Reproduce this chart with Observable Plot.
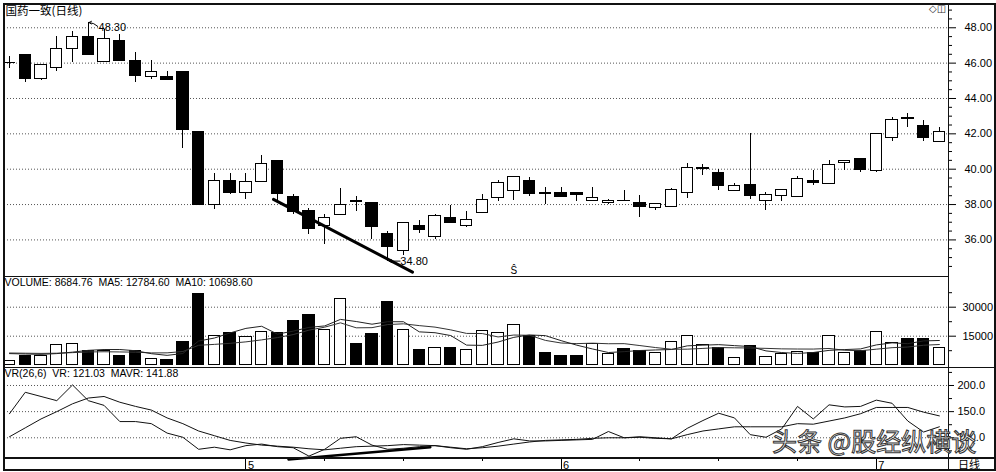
<!DOCTYPE html>
<html><head><meta charset="utf-8">
<script src="https://cdn.jsdelivr.net/npm/d3@7"></script>
<script src="https://cdn.jsdelivr.net/npm/@observablehq/plot@0.6"></script>
<style>
body{margin:0;background:#fff;}
#wrap{position:relative;width:996px;height:472px;overflow:hidden;background:#fff;font-family:"Liberation Sans",Arial,sans-serif;}
.panel{position:absolute;left:0;}
.panel svg{overflow:visible;background:transparent;display:block;}
.ln{position:absolute;background:#111;}
#border{position:absolute;left:3px;top:3px;width:993px;height:468px;border:2px solid #111;box-sizing:border-box;}
#wm{position:absolute;left:772px;top:428px;line-height:24px;font-family:"Noto Sans CJK SC",sans-serif;font-size:25px;color:#fff;-webkit-text-stroke:1px #333;white-space:nowrap;}
#icons{position:absolute;left:929px;top:4px;line-height:10px;font-size:10px;font-family:"DejaVu Sans",sans-serif;color:#333;}
#rx{position:absolute;left:958px;top:459px;line-height:11px;font-family:"Noto Sans CJK SC",sans-serif;font-size:11px;}
</style></head><body>
<div id="wrap">
  <div class="panel" id="p1" style="top:0"></div>
  <div class="panel" id="p2" style="top:276px"></div>
  <div class="panel" id="p3" style="top:367px"></div>
  <div class="panel" id="p4" style="top:458px"></div>
  <div class="ln" style="left:4px;top:276px;width:944px;height:1px"></div>
  <div class="ln" style="left:4px;top:367px;width:991px;height:1px"></div>
  <div class="ln" style="left:4px;top:457px;width:991px;height:2px"></div>
  <div class="ln" style="left:948px;top:3px;width:1px;height:467px"></div>
  <div id="border"></div>
  <div id="icons">◇◫</div>
  <div id="rx">日线</div>
  <div id="wm">头条 @股经纵横谈</div>
</div>
<script>
// ---- data ----
const title = "国药一致(日线)";
const open  = [46.00,46.44,45.08,45.74,46.81,47.49,46.08,47.28,46.12,45.21,45.23,45.52,42.13,37.99,39.34,38.65,39.29,40.47,38.44,37.65,36.76,37.40,38.19,38.08,36.33,35.39,36.80,36.14,37.23,36.80,37.50,38.36,38.78,39.34,38.64,38.63,38.68,38.21,38.06,38.22,38.08,37.80,37.84,38.68,40.02,39.81,38.78,39.09,38.18,38.49,38.44,39.34,39.15,40.36,40.59,39.90,41.78,42.87,42.47,41.53];
const high  = [46.40,46.44,45.87,47.53,47.77,48.30,47.90,47.62,46.59,46.16,45.55,45.52,42.13,39.78,39.78,39.76,40.75,40.47,38.59,37.78,37.46,38.91,38.46,38.08,36.48,36.93,37.12,37.46,37.97,37.59,38.59,39.34,39.56,39.52,38.96,38.96,38.68,38.96,38.30,38.81,38.49,38.03,38.92,40.31,40.27,39.99,39.19,42.00,38.68,38.84,39.56,39.94,40.52,40.52,40.59,42.00,42.94,43.13,42.75,42.34];
const low   = [45.70,44.90,45.03,45.50,46.02,46.44,46.08,46.12,44.93,45.08,45.03,41.19,37.99,37.71,38.55,38.31,39.29,38.25,37.46,36.29,35.73,37.40,37.59,36.05,34.80,35.12,36.37,36.05,36.95,36.71,37.50,38.18,38.21,38.44,38.03,38.44,38.18,38.18,38.03,38.18,37.28,37.65,37.84,38.36,39.62,38.78,38.78,38.31,37.65,38.18,38.44,39.06,39.15,39.90,39.81,39.81,41.59,42.34,41.59,41.53];
const close = [46.01,45.12,45.87,46.81,47.49,46.44,47.34,46.12,45.27,45.48,45.03,42.24,37.99,39.36,38.67,39.25,40.32,38.59,37.59,36.61,37.23,37.97,38.17,36.71,35.58,36.93,36.56,37.33,36.95,37.12,38.27,39.21,39.56,38.59,38.62,38.44,38.53,38.36,38.21,38.20,37.84,38.03,38.81,40.05,40.04,39.06,39.06,38.46,38.53,38.81,39.47,39.21,40.23,40.45,39.96,42.00,42.81,42.85,41.78,42.11];
const volume = [2430,5000,4650,10700,11000,7100,7100,4650,7600,3300,2800,11900,36900,15350,16550,14500,17400,16550,23100,26200,18300,34300,11050,16200,32600,18300,8100,8800,8800,7950,17600,16750,20900,15000,6200,4650,5000,11050,5900,8450,7600,6400,12250,15350,10200,9000,3800,9850,4150,5900,6750,6200,15350,6200,7600,17100,11500,13300,13300,8684.76];
const ma5  = [6000,5800,5600,6000,6760,7690,8110,8110,7490,5950,5090,6050,12500,14050,16700,19040,20140,16070,17620,19550,20310,23690,22590,21210,22490,22490,17250,16800,15320,10390,10250,11980,14400,15640,15290,12700,10350,8380,6560,7010,7600,7880,8120,10010,10360,10640,10120,9640,7400,6540,6090,6570,7670,8080,8420,10490,11550,11140,12560,12784.6];
const ma10 = [6300,6200,6100,6200,6500,6845,6955,6855,6745,6355,6390,7080,10305,10770,11325,12065,13095,14285,15835,18125,19675,21915,19330,19415,21020,21400,20470,19695,18265,16440,16370,14615,15600,15480,12840,11475,11165,11390,11100,11150,10150,9115,8250,8285,8685,9120,9000,8880,8705,8450,8365,8345,8655,7740,7480,8290,9060,9405,10320,10698.6];
const vr   = [146,187,179,171,201,171,162,131,131,127,109,101,78,82,77,85,88,83,81,65,78,99,102,86,78,80,83,85,81,78,83,91,98,94,94,95,96,97,112,100,102,100,98,118,133,147,138,106,101,117,160,136,163,159,160,172,166,132,111,121.03];
const mavr = [102,119,136,150,165,176,179,168,160,153,138,127,113,104,95,90,86,84,82,79,77,80,83,84,85,87,86,85,82,79,81,84,88,92,95,96,97,99,100,100,101,99,98,106,113,117,121,121,121,121,127,126,132,138,146,158,158,158,149,141.88];
const priceTicks = [36,38,40,42,44,46,48];
const priceMinor = [34.5,35,35.5,36.5,37,37.5,38.5,39,39.5,40.5,41,41.5,42.5,43,43.5,44.5,45,45.5,46.5,47,47.5,48.5,49];
const volTicks = [15000,30000];
const volMinor = [7500,22500,37500];
const vrTicks = [100,150,200];
const vrMinor = [75,125,175,225];
const monthStarts = [{i:15,label:"5"},{i:35,label:"6"},{i:55,label:"7"}];
const weekTicks = [20,25,30,40,45,50];
const highMark = [{i:5, v:48.30, label:"48.30"}];
const lowMark = [{i:24, v:34.80, label:"34.80"}];
const priceTrend = [{i:16.75, v:38.29},{i:25.57, v:34.18}];
const vrTrend = [{i:17.7, v:58.5},{i:26.7, v:82}];
const exMark = [{i:32, label:"Ŝ"}];
const volLabel = "VOLUME: 8684.76  MA5: 12784.60  MA10: 10698.60";
const vrLabel = "VR(26,6)  VR: 121.03  MAVR: 141.88";

// ---- table ----
const bars = open.map((o,i)=>({i, o, h:high[i], l:low[i], c:close[i], up: close[i]>=o, vol:volume[i], ma5:ma5[i], ma10:ma10[i], vr:vr[i], mavr:mavr[i]}));

const FONT = "Liberation Sans, Arial, sans-serif";
const CJK = "Noto Sans CJK SC, sans-serif";
const common = {
  width: 996, marginLeft: 4, marginRight: 48,
  x: {type:"linear", domain: [-0.317, 59.58], axis: null},
  style: {fontFamily: FONT, fontSize: "11px", background: "transparent", overflow: "visible", color:"#000"}
};
const grid = t => Plot.gridY(t, {stroke:"#555", strokeOpacity:1, strokeDasharray:"1,2"});
const hw = 0.36;

const p1 = Plot.plot({...common, height: 276, marginTop: 5, marginBottom: 0,
  y: {domain: [33.93, 49.26]},
  marks: [
    grid(priceTicks),
    Plot.axisY(priceMinor, {anchor:"right", tickSize:3, tickFormat:()=>"", stroke:"#000"}),
    Plot.axisY(priceTicks, {anchor:"right", tickSize:7, tickPadding:9, tickFormat:d=>d.toFixed(2), fontSize:11, stroke:"#000"}),
    Plot.ruleX(bars, {x:"i", y1:"l", y2:"h", stroke:"#000", strokeWidth:1, shapeRendering:"crispEdges"}),
    Plot.rect(bars, {x1:d=>d.i-hw, x2:d=>d.i+hw, y1:"o", y2:"c", fill:d=>d.up?"#fff":"#000", stroke:"#000", strokeWidth:1, shapeRendering:"crispEdges"}),
    Plot.line(priceTrend, {x:"i", y:"v", stroke:"#000", strokeWidth:3}),
    Plot.arrow(highMark, {x1:d=>d.i+0.6, y1:d=>d.v-0.22, x2:d=>d.i+0.05, y2:"v", stroke:"#000", strokeWidth:1, headLength:4, bend:-20}),
    Plot.text(highMark, {x:d=>d.i+0.65, y:d=>d.v-0.3, text:"label", textAnchor:"start", fontSize:11}),
    Plot.arrow(lowMark, {x1:d=>d.i+0.78, y1:"v", x2:d=>d.i+0.1, y2:"v", stroke:"#000", strokeWidth:1, headLength:4}),
    Plot.text(lowMark, {x:d=>d.i+0.8, y:"v", text:"label", textAnchor:"start", fontSize:11}),
    Plot.text(exMark, {x:"i", text:"label", frameAnchor:"bottom", dy:-3, fontSize:10}),
    Plot.text([title], {text:d=>d, frameAnchor:"top-left", dx:1, dy:1, fontSize:11.5, fontFamily:CJK})
  ]
});
document.getElementById("p1").append(p1);

const p2 = Plot.plot({...common, height: 91, marginTop: 0, marginBottom: 0,
  y: {domain: [-1190, 45879]},
  marks: [
    grid(volTicks),
    Plot.axisY(volMinor, {anchor:"right", tickSize:3, tickFormat:()=>"", stroke:"#000"}),
    Plot.axisY(volTicks, {anchor:"right", tickSize:7, tickPadding:7, tickFormat:d=>String(d), fontSize:11, stroke:"#000"}),
    Plot.rect(bars, {x1:d=>d.i-hw, x2:d=>d.i+hw, y1:0, y2:"vol", fill:d=>d.up?"#fff":"#000", stroke:"#000", strokeWidth:1, shapeRendering:"crispEdges"}),
    Plot.line(bars, {x:"i", y:"ma10", stroke:"#333", strokeWidth:1}),
    Plot.line(bars, {x:"i", y:"ma5", stroke:"#222", strokeWidth:1}),
    Plot.text([volLabel], {text:d=>d, frameAnchor:"top-left", dx:0, dy:2, fontSize:10.5})
  ]
});
document.getElementById("p2").append(p2);

const p3 = Plot.plot({...common, height: 91, marginTop: 0, marginBottom: 0,
  y: {domain: [60.4, 234.4]},
  marks: [
    grid(vrTicks),
    Plot.axisY(vrMinor, {anchor:"right", tickSize:3, tickFormat:()=>"", stroke:"#000"}),
    Plot.axisY(vrTicks, {anchor:"right", tickSize:5, tickPadding:4, tickFormat:d=>d.toFixed(1), fontSize:11, stroke:"#000"}),
    Plot.line(bars, {x:"i", y:"mavr", stroke:"#111", strokeWidth:1}),
    Plot.line(bars, {x:"i", y:"vr", stroke:"#111", strokeWidth:1}),
    Plot.line(vrTrend, {x:"i", y:"v", stroke:"#000", strokeWidth:2.5}),
    Plot.text([vrLabel], {text:d=>d, frameAnchor:"top-left", dx:0, dy:2, fontSize:10.5})
  ]
});
document.getElementById("p3").append(p3);

const p4 = Plot.plot({...common, height: 12, marginTop: 0, marginBottom: 0,
  marks: [
    Plot.ruleX(monthStarts, {x:"i", stroke:"#000", shapeRendering:"crispEdges"}),
    Plot.ruleX(weekTicks, {x:d=>d, insetBottom:9, stroke:"#000", shapeRendering:"crispEdges"}),
    Plot.text(monthStarts, {x:"i", text:"label", textAnchor:"start", dx:2, dy:1, frameAnchor:"middle", fontSize:11})
  ]
});
document.getElementById("p4").append(p4);
</script>
</body></html>
